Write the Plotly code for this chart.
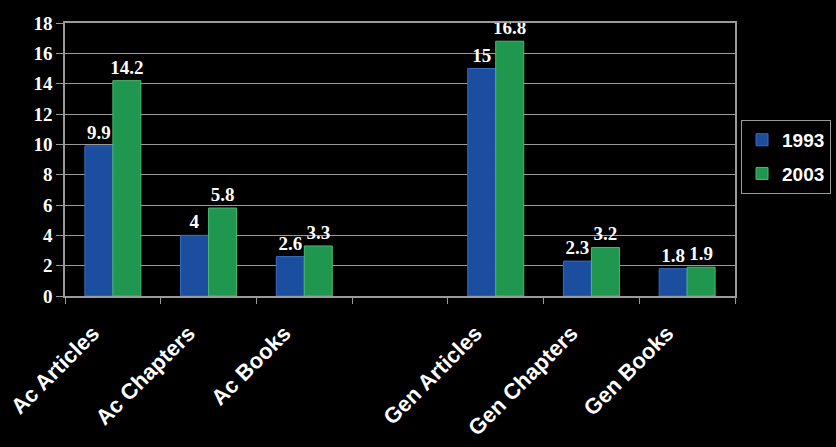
import plotly.graph_objects as go

categories = ["Ac Articles", "Ac Chapters", "Ac Books", " ", "Gen Articles", "Gen Chapters", "Gen Books"]
values_1993 = [9.9, 4, 2.6, None, 15, 2.3, 1.8]
values_2003 = [14.2, 5.8, 3.3, None, 16.8, 3.2, 1.9]
labels_1993 = ["9.9", "4", "2.6", "", "15", "2.3", "1.8"]
labels_2003 = ["14.2", "5.8", "3.3", "", "16.8", "3.2", "1.9"]
series_names = ["1993", "2003"]
y_ticks = list(range(0, 19, 2))

label_font = dict(family="Liberation Serif", size=19, color="white", weight="bold")

fig = go.Figure()
fig.add_trace(go.Bar(
    x=categories, y=values_1993, name=series_names[0], legendgroup="g1",
    marker=dict(color="#1b4e9e", line=dict(color="#3a6cc0", width=1)),
    text=labels_1993, textposition="outside", textfont=label_font,
    constraintext="none", cliponaxis=False,
))
fig.add_trace(go.Bar(
    x=categories, y=values_2003, name=series_names[1], legendgroup="g2",
    marker=dict(color="#1f974e", line=dict(color="#4cb874", width=1)),
    text=labels_2003, textposition="outside", textfont=label_font,
    constraintext="none", cliponaxis=False,
))

fig.update_layout(
    width=836, height=447,
    paper_bgcolor="black", plot_bgcolor="black",
    margin=dict(l=65, r=101, t=23, b=151, autoexpand=False),
    barmode="group", bargap=0.415, bargroupgap=0,
    showlegend=True,
    legend=dict(
        x=1.009, y=0.645, xanchor="left", yanchor="top", xref="paper",
        font=dict(family="Liberation Sans", size=19, color="white", weight="bold"),
        bordercolor="#9a9a9a", borderwidth=1, bgcolor="black",
        tracegroupgap=6,
    ),
)
fig.update_xaxes(
    type="category", categoryorder="array", categoryarray=categories,
    tickangle=-45, tickson="boundaries", ticks="outside", ticklen=6,
    tickcolor="#9a9a9a",
    tickfont=dict(family="Liberation Sans", size=22, color="white", weight="bold"),
    ticklabelshift=-20, ticklabelstandoff=14,
    showline=True, linecolor="#9a9a9a", linewidth=1.5, mirror=True,
    showgrid=False,
)
fig.update_yaxes(
    range=[0, 18], tickvals=y_ticks, ticks="outside", ticklen=7,
    tickcolor="#9a9a9a",
    tickfont=dict(family="Liberation Serif", size=19, color="white", weight="bold"),
    showgrid=True, gridcolor="#9a9a9a", gridwidth=1,
    showline=True, linecolor="#9a9a9a", linewidth=1.5, mirror=True,
    zeroline=False,
)

fig.write_html(
    "out.html",
    config={"displayModeBar": False},
    post_script="document.body.style.margin='0';document.body.style.overflow='hidden';document.body.style.background='black';",
)
